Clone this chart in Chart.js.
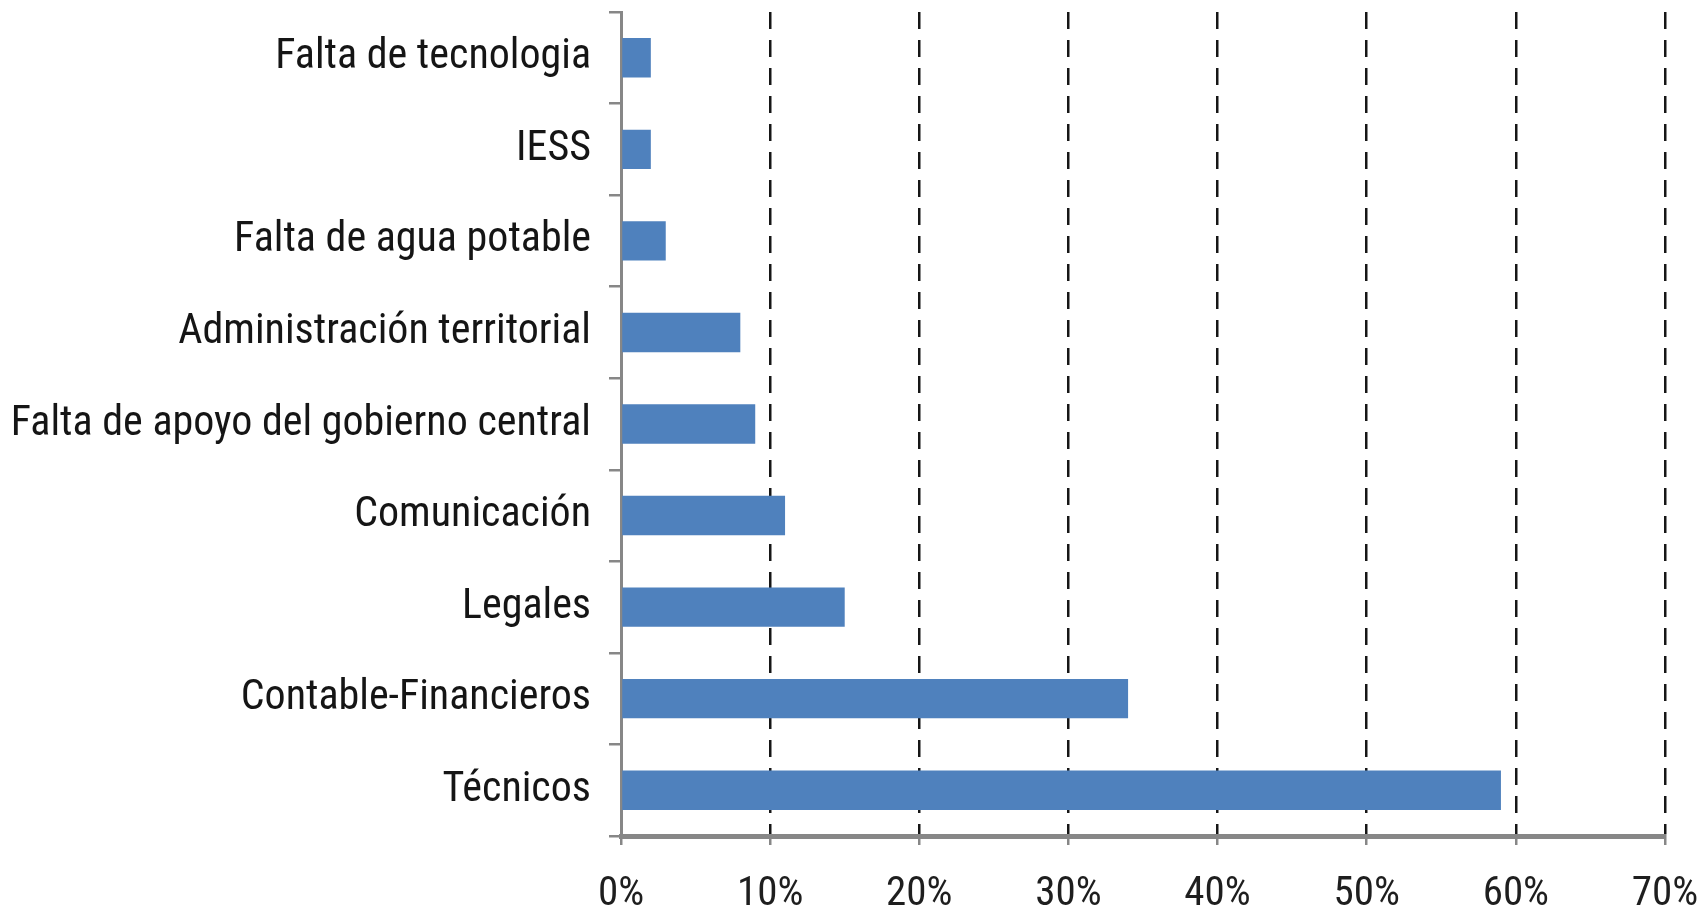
<!DOCTYPE html>
<html>
<head>
<meta charset="utf-8">
<script src="https://cdn.jsdelivr.net/npm/chart.js@4.4.1/dist/chart.umd.min.js"></script>
<style>
    html, body { margin: 0; padding: 0; background: #ffffff; }
    .chart-wrap { position: relative; width: 1706px; height: 909px; }
</style>
</head>
<body>
<div class="chart-wrap"><canvas id="problemasChart"></canvas></div>
<script>
    // categories, top to bottom
    var categorias = [
        'Falta de tecnologia',
        'IESS',
        'Falta de agua potable',
        'Administración territorial',
        'Falta de apoyo del gobierno central',
        'Comunicación',
        'Legales',
        'Contable-Financieros',
        'Técnicos'
    ];
    // percentage per category
    var porcentajes = [2, 2, 3, 8, 9, 11, 15, 34, 59];
    // x axis ticks
    var tickValores = [0, 10, 20, 30, 40, 50, 60, 70];

    var fontFamily = "'Liberation Sans Narrow', 'Arial Narrow', 'Roboto Condensed', 'Liberation Sans', sans-serif";
    var axisGrey = '#878787';

    var config = {
        type: 'bar',
        data: {
            labels: categorias,
            datasets: [{
                data: porcentajes,
                backgroundColor: '#4f81bd',
                borderWidth: 0,
                categoryPercentage: 1,
                barPercentage: 0.43
            }]
        },
        options: {
            indexAxis: 'y',
            responsive: true,
            maintainAspectRatio: false,
            animation: false,
            layout: {
                padding: { top: 12, right: 41, bottom: 0, left: 0 }
            },
            plugins: {
                legend: { display: false },
                tooltip: { enabled: false }
            },
            scales: {
                x: {
                    min: tickValores[0],
                    max: tickValores[tickValores.length - 1],
                    afterBuildTicks: function (scale) {
                        scale.ticks = tickValores.map(function (v) { return { value: v }; });
                    },
                    afterFit: function (scale) {
                        scale.height = 73;
                        // keep the plot edges fixed, labels may hang over
                        scale.paddingLeft = 0;
                        scale.paddingRight = 0;
                    },
                    ticks: {
                        padding: 25,
                        color: '#1e1e1e',
                        font: { family: fontFamily, size: 41 },
                        callback: function (v) { return v + '%'; }
                    },
                    grid: {
                        color: function (ctx) {
                            // no dashed line on 0, the y axis sits there
                            return (ctx.tick && ctx.tick.value === 0) ? 'rgba(0,0,0,0)' : '#161616';
                        },
                        lineWidth: 2.5,
                        drawTicks: true,
                        tickLength: 9,
                        tickColor: axisGrey,
                        tickWidth: 2.5,
                        tickBorderDash: []
                    },
                    border: {
                        display: true,
                        color: axisGrey,
                        width: 5,
                        dash: [17, 11]
                    }
                },
                y: {
                    afterFit: function (scale) {
                        scale.width = 621;
                        scale.paddingTop = 0;
                        scale.paddingBottom = 0;
                    },
                    ticks: {
                        padding: 18,
                        color: '#151515',
                        font: { family: fontFamily, size: 42 }
                    },
                    grid: {
                        offset: true,
                        drawOnChartArea: false,
                        drawTicks: true,
                        tickLength: 12,
                        color: axisGrey,
                        lineWidth: 2.5
                    },
                    border: {
                        display: true,
                        color: axisGrey,
                        width: 3
                    }
                }
            }
        }
    };

    var ctx = document.getElementById('problemasChart').getContext('2d');
    new Chart(ctx, config);
</script>
</body>
</html>
